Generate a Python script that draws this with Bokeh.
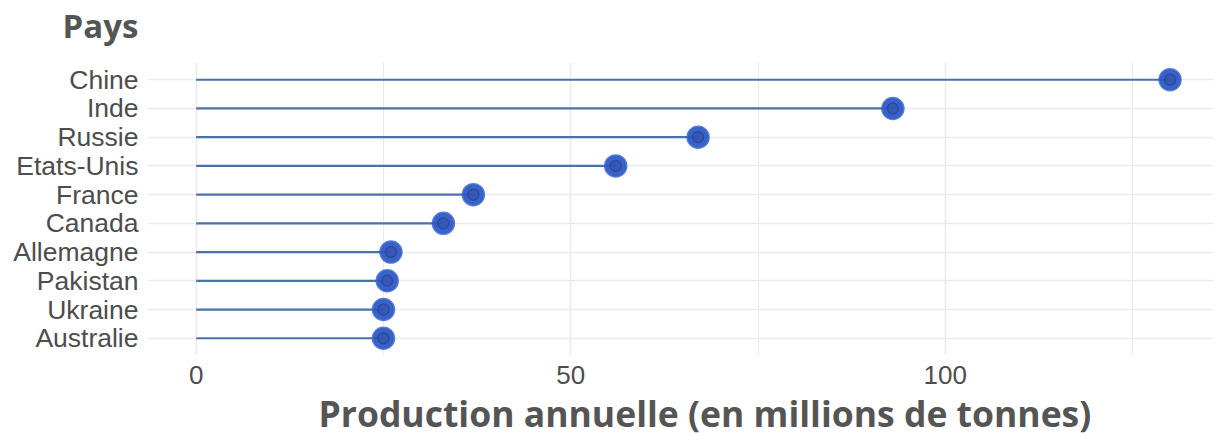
from bokeh.plotting import figure
from bokeh.models import FixedTicker, Range1d, Title, ColumnDataSource
from bokeh.embed import file_html
from bokeh.resources import INLINE

countries = ["Chine", "Inde", "Russie", "Etats-Unis", "France", "Canada",
             "Allemagne", "Pakistan", "Ukraine", "Australie"]
production = [130, 93, 67, 56, 37, 33, 26, 25.5, 25, 25]
x_ticks = [0, 50, 100]
x_minor_ticks = [25, 75, 125]

n = len(countries)
ypos = [n - i for i in range(n)]  # Chine at the top

src = ColumnDataSource(dict(country=countries, value=production, y=ypos,
                            zero=[0] * n))

GRID = "#ebebeb"
TXT = "#4d4d4d"

p = figure(width=1213, height=436, output_backend="svg", toolbar_location=None,
           x_range=Range1d(-6.5, 135.8), y_range=Range1d(0.4, n + 0.6),
           min_border_left=147, min_border_right=0, min_border_top=62,
           min_border_bottom=79)
p.outline_line_color = None
p.background_fill_color = "white"

# axes
p.xaxis.ticker = FixedTicker(ticks=x_ticks, minor_ticks=x_minor_ticks)
p.yaxis.ticker = FixedTicker(ticks=ypos)
p.yaxis.major_label_overrides = {int(y): c for y, c in zip(ypos, countries)}
for ax in (p.xaxis, p.yaxis):
    ax.axis_line_color = None
    ax.major_tick_line_color = None
    ax.minor_tick_line_color = None
    ax.major_tick_out = 0
    ax.major_tick_in = 0
    ax.major_label_text_font = "Liberation Sans"
    ax.major_label_text_color = TXT
p.yaxis.major_label_text_font_size = "26.5px"
p.xaxis.major_label_text_font_size = "26px"
p.yaxis.major_label_standoff = 9
p.xaxis.major_label_standoff = 6

# grid
p.xgrid.grid_line_color = GRID
p.xgrid.grid_line_width = 1.6
p.xgrid.minor_grid_line_color = GRID
p.xgrid.minor_grid_line_width = 1
p.ygrid.grid_line_color = GRID
p.ygrid.grid_line_width = 1.6

# lollipops
p.segment(x0="zero", y0="y", x1="value", y1="y", source=src,
          line_color="#4a72aa", line_width=2.2)
p.scatter(x="value", y="y", source=src, size=21, marker="circle",
          fill_color="#2a55c0", fill_alpha=0.92, line_color="#2f5fd0",
          line_alpha=0.8, line_width=2.5)
p.scatter(x="value", y="y", source=src, size=11, marker="circle",
          fill_color="#3552a8", fill_alpha=0.6, line_color="#22419a",
          line_width=1.5, line_alpha=0.7)

# titles
p.title.text = "Pays"
p.title.align = "left"
p.title.offset = -85
p.title.standoff = 0
p.title.text_font = "Open Sans"
p.title.text_font_style = "bold"
p.title.text_font_size = "33px"
p.title.text_color = "#555555"

spacer = Title(text=" ", text_font_size="1px", standoff=12)
p.add_layout(spacer, "above")

xlab = Title(text="Production annuelle (en millions de tonnes)", align="left",
             offset=171, text_font="Open Sans", text_font_style="bold",
             text_font_size="35.5px", text_color="#555555", standoff=0)
p.add_layout(xlab, "below")

open("out.html", "w").write(file_html(p, INLINE))
